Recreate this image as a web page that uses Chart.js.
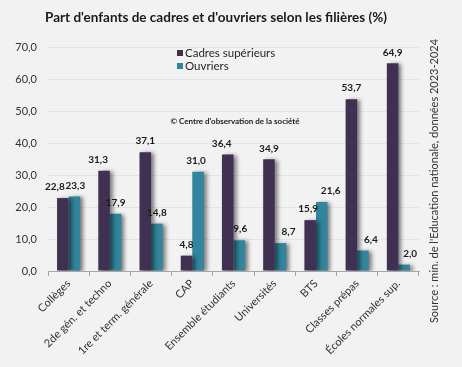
<!DOCTYPE html>
<html>
<head>
<meta charset="utf-8">
<script src="https://cdn.jsdelivr.net/npm/chart.js@4/dist/chart.umd.min.js"></script>
<style>
  html, body { margin: 0; padding: 0; background: #f2f2f2; }
  canvas { display: block; }
</style>
</head>
<body>
<canvas id="chart" width="462" height="367"></canvas>
<script>
const categories = ['Collèges', '2de gén. et techno', '1re et term. générale', 'CAP', 'Ensemble étudiants',
                    'Universités', 'BTS', 'Classes prépas', 'Écoles normales sup.'];
const cadres = [22.8, 31.3, 37.1, 4.8, 36.4, 34.9, 15.9, 53.7, 64.9];
const ouvriers = [23.3, 17.9, 14.8, 31.0, 9.6, 8.7, 21.6, 6.4, 2.0];
const seriesNames = ['Cadres supérieurs', 'Ouvriers'];
const yTicks = [0, 10, 20, 30, 40, 50, 60, 70];

const FONT = 'Lato, "Liberation Sans", sans-serif';
const fmt = v => v.toFixed(1).replace('.', ',');

// excel-like drop shadow under the bars
const barShadow = {
  id: 'barShadow',
  beforeDatasetDraw(chart) {
    const c = chart.ctx;
    c.save();
    c.shadowColor = 'rgba(0,0,0,0.5)';
    c.shadowBlur = 4;
    c.shadowOffsetX = 3;
    c.shadowOffsetY = 1;
  },
  afterDatasetDraw(chart) {
    chart.ctx.restore();
  }
};

// value labels above bars (hand-nudged like in the original)
const valueLabels = {
  id: 'valueLabels',
  afterDatasetsDraw(chart, args, opts) {
    const c = chart.ctx;
    c.save();
    c.font = 'bold 10px ' + FONT;
    c.fillStyle = '#1a1a1a';
    c.textAlign = 'center';
    c.textBaseline = 'middle';
    chart.data.datasets.forEach((ds, di) => {
      const meta = chart.getDatasetMeta(di);
      meta.data.forEach((bar, i) => {
        const dx = (opts.dx[di] || [])[i] || 0;
        c.fillText(fmt(ds.data[i]), bar.x + dx, bar.y - 11);
      });
    });
    c.restore();
  }
};

// title, legend, note and source drawn by hand
const decorations = {
  id: 'decorations',
  afterDraw(chart) {
    const c = chart.ctx;
    c.save();
    c.fillStyle = '#1a1a1a';
    c.textAlign = 'center';
    c.textBaseline = 'middle';
    c.font = 'bold 13.5px ' + FONT;
    c.fillText("Part d'enfants de cadres et d'ouvriers selon les filières (%)", 216, 18);

    c.font = 'bold 8px ' + FONT;
    c.fillText("© Centre d'observation de la société", 235, 121);

    // legend
    c.textAlign = 'left';
    c.font = '11.5px ' + FONT;
    chart.data.datasets.forEach((ds, i) => {
      const y = 53 + i * 13;
      c.fillStyle = ds.backgroundColor;
      c.fillRect(177, y - 3, 6, 6);
      c.fillStyle = '#262626';
      c.fillText(ds.label, 185, y);
    });

    // source, vertical on the right
    c.translate(434, 181);
    c.rotate(-Math.PI / 2);
    c.textAlign = 'center';
    c.font = '11px ' + FONT;
    c.fillStyle = '#333';
    c.fillText("Source : min. de l'Education nationale, données 2023-2024", 0, 0);
    c.restore();
  }
};

const ctx = document.getElementById('chart').getContext('2d');
const chart = new Chart(ctx, {
  type: 'bar',
  data: {
    labels: categories,
    datasets: [
      { label: seriesNames[0], data: cadres, backgroundColor: '#403152' },
      { label: seriesNames[1], data: ouvriers, backgroundColor: '#31859c' }
    ]
  },
  options: {
    responsive: false,
    animation: false,
    layout: { padding: { top: 47, right: 43, bottom: 0, left: 0 } },
    datasets: {
      bar: { categoryPercentage: 0.56, barPercentage: 1.0 }
    },
    plugins: {
      legend: { display: false },
      tooltip: { enabled: false },
      valueLabels: {
        dx: [
          [-8, -6, 0, 0, -6, 0, -2, 0, 0],
          [1, 0, 0, -2, 1, 8, 9, 8, 6]
        ]
      }
    },
    scales: {
      x: {
        afterFit: s => { s.height = 96; },
        border: { color: '#a6a6a6' },
        grid: { offset: true, drawOnChartArea: false, tickLength: 5, color: '#a6a6a6' },
        ticks: {
          maxRotation: 45, minRotation: 45, padding: 1,
          color: '#333', font: { family: FONT, size: 11 }
        }
      },
      y: {
        min: 0, max: 70,
        afterFit: s => { s.width = 48; },
        afterBuildTicks: s => { s.ticks = yTicks.map(v => ({ value: v })); },
        border: { display: false },
        grid: { drawTicks: false, color: '#e0e5ec' },
        ticks: {
          padding: 11, color: '#333', font: { family: FONT, size: 11 },
          callback: v => fmt(v)
        }
      }
    }
  },
  plugins: [barShadow, valueLabels, decorations]
});
</script>
</body>
</html>
